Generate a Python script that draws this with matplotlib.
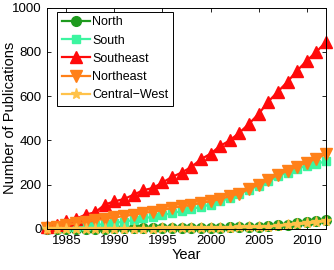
import matplotlib
matplotlib.use("Agg")
import matplotlib.pyplot as plt
import numpy as np

plt.rcParams['font.family'] = ['Liberation Sans', 'DejaVu Sans']

years = list(range(1983, 2013))
north = [0, 1, 1, 1, 2, 2, 2, 3, 3, 3, 3, 4, 4, 4, 5, 5, 5, 6, 6, 7, 8, 9, 11, 13, 16, 20, 25, 30, 36, 42]
south = [2, 4, 7, 10, 14, 18, 22, 28, 33, 40, 48, 55, 62, 72, 80, 90, 100, 110, 125, 140, 160, 178, 195, 215, 238, 255, 272, 285, 295, 305]
southeast = [10, 20, 35, 45, 65, 75, 110, 125, 135, 155, 175, 185, 210, 235, 255, 280, 315, 340, 375, 400, 435, 475, 520, 575, 620, 665, 715, 760, 800, 845]
northeast = [5, 10, 18, 25, 32, 40, 45, 52, 58, 65, 72, 78, 85, 95, 102, 108, 118, 125, 135, 148, 160, 180, 200, 220, 245, 262, 282, 300, 318, 338]
central_west = [0, 0, 1, 1, 1, 1, 1, 2, 2, 2, 2, 2, 3, 3, 3, 4, 4, 5, 5, 6, 7, 8, 9, 11, 14, 17, 21, 25, 30, 35]

labels = ['North', 'South', 'Southeast', 'Northeast', 'Central\u2212West']
series = [north, south, southeast, northeast, central_west]
colors = ['#1e9a1e', '#3cf5a0', '#ff0a0a', '#ff8018', '#ffc24a']
markers = ['o', 's', '^', 'v', '*']
msizes = [7, 6, 8.5, 8.5, 8]

fig = plt.figure(figsize=(3.34, 2.70), dpi=100)
ax = fig.add_axes([0.141, 0.152, 0.835, 0.82])

for lab, ys, c, m, ms in zip(labels, series, colors, markers, msizes):
    ax.plot(years, ys, color=c, marker=m, markersize=ms, linewidth=1.6,
            markerfacecolor=c, markeredgecolor=c, label=lab, clip_on=False)

ax.set_xlim(1983, 2012)
ax.set_ylim(0, 1000)
ax.set_xticks([1985, 1990, 1995, 2000, 2005, 2010])
ax.set_yticks([0, 200, 400, 600, 800, 1000])
ax.tick_params(direction='in', top=True, right=True, labelsize=9.5, length=3, width=0.6, pad=4)
for s in ax.spines.values():
    s.set_linewidth(0.7)
ax.set_xlabel('Year', fontsize=10.5, labelpad=1)
ax.set_ylabel('Number of Publications', fontsize=10.5)
ax.yaxis.set_label_coords(-0.108, 0.5)

leg = ax.legend(loc='upper left', fontsize=9, fancybox=False, edgecolor='black',
                framealpha=1, handlelength=2.25, handletextpad=0.2, labelspacing=0.5,
                borderpad=0.35, borderaxespad=0, bbox_to_anchor=(0.036, 0.98))
leg.get_frame().set_linewidth(0.7)

fig.savefig('out.png', dpi=100)
